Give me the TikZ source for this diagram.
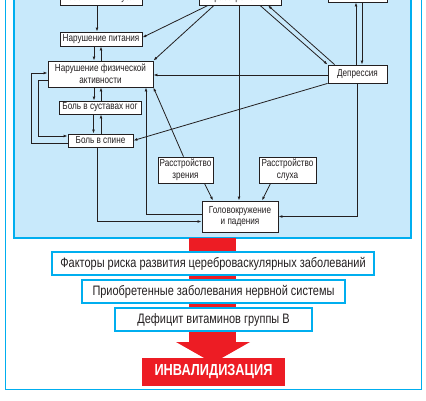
\documentclass[tikz,border=0pt]{standalone}
\usepackage{fontspec}
\setmainfont{Liberation Sans}[FakeStretch=0.8]
\usetikzlibrary{arrows.meta}

\definecolor{panelblue}{HTML}{C8E9FB}
\definecolor{framecyan}{HTML}{00AEEF}
\definecolor{alarmred}{HTML}{ED1C24}
\definecolor{inkc}{HTML}{231F20}

\begin{document}
\begin{tikzpicture}[x=1pt, y=-1pt,
        box/.style={draw=inkc, fill=white, line width=0.8pt, inner sep=0pt, align=center,
            text=inkc, font=\fontsize{10.2}{11.5}\selectfont},
        bluebox/.style={draw=framecyan, fill=white, line width=1.5pt, inner sep=0pt,
            text=inkc, font=\fontsize{13.7}{15}\selectfont},
        arr/.style={-{Latex[length=4pt,width=2.8pt]}, line width=0.8pt, draw=inkc}]

        \useasboundingbox (0,0) rectangle (426,400);

        % frames
        \draw[framecyan, line width=1pt] (5.5,-5) -- (5.5,389) -- (421,389) -- (421,-5);
        \filldraw[fill=panelblue, draw=framecyan, line width=2pt] (14,-5) rectangle (411,238);

        % red arrow
        \fill[alarmred] (189,238) rectangle (236,342);
        \fill[alarmred] (176,342) -- (250,342) -- (213,363) -- cycle;

        % boxes in the panel
        \node[box, minimum width=82, minimum height=26] (smell) at (101,-8) {Нарушение\\обоняния и вкуса};
        \node[box, minimum width=82, minimum height=26] (cogn) at (240,-8) {Когнитивные\\расстройства};
        \node[box, minimum width=59, minimum height=26] (topr) at (357.5,-11) {};
        \node[box, minimum width=82, minimum height=14] (pit) at (101,39) {Нарушение питания};
        \node[box, minimum width=105, minimum height=26] (fiz) at (100.5,74) {Нарушение физической\\активности};
        \node[box, minimum width=82, minimum height=13] (sust) at (100,107.5) {Боль в суставах ног};
        \node[box, minimum width=65, minimum height=13] (spina) at (100.5,140.5) {Боль в спине};
        \node[box, minimum width=59, minimum height=18] (depr) at (357.5,74) {Депрессия};
        \node[box, minimum width=55, minimum height=26] (zren) at (185.5,170) {Расстройство\\зрения};
        \node[box, minimum width=57, minimum height=26] (sluh) at (287.5,170) {Расстройство\\слуха};
        \node[box, minimum width=76, minimum height=31] (golov) at (240,216.5) {Головокружение\\и падения};

        % left column
        \draw[arr] ([xshift=-4pt]smell.south) -- ([xshift=-4pt]smell.south |- pit.north);
        \draw[arr] ([xshift=-7pt]pit.south) -- ([xshift=-7pt]pit.south |- fiz.north);
        \draw[arr] ([xshift=0.5pt]fiz.north) -- ([xshift=0.5pt]fiz.north |- pit.south);
        \draw[arr] ([xshift=-6.5pt]fiz.south) -- ([xshift=-6.5pt]fiz.south |- sust.north);
        \draw[arr] ([xshift=1pt]sust.north) -- ([xshift=1pt]sust.north |- fiz.south);
        \draw[arr] ([xshift=-6.5pt]sust.south) -- ([xshift=-6.5pt]sust.south |- spina.north);
        \draw[arr] ([xshift=0.5pt]spina.north) -- ([xshift=0.5pt]spina.north |- sust.south);

        % loops on the left
        \draw[arr] ([yshift=-2.5pt]spina.west) -- ++(-36,0) |- ([yshift=1pt]fiz.west);
        \draw[arr] ([yshift=-6pt]fiz.west) -- ++(-9,0) |- ([yshift=4.5pt]spina.west);

        % from the top
        \draw[arr] ([xshift=-32pt]cogn.south) -- ([yshift=1.5pt]pit.east);
        \draw[arr] ([xshift=-26pt]cogn.south) -- (fiz.north east);
        \draw[arr] ([xshift=-1pt]cogn.south) -- ([xshift=-1pt]cogn.south |- golov.north);
        \draw[arr] ([xshift=20pt]cogn.south) -- (depr.north west);
        \draw[arr] ([xshift=7pt]depr.north west) -- ([xshift=28pt]cogn.south);
        \draw[arr] ([xshift=-1.5pt]depr.north) -- ([xshift=-1.5pt]depr.north |- topr.south);
        \draw[arr] ([xshift=4.5pt]topr.south) -- ([xshift=4.5pt]topr.south |- depr.north);

        % depression
        \draw[arr] ([yshift=-1pt]depr.west) -- ([yshift=-1pt]depr.west -| fiz.east);
        \draw[arr] (depr.south west) -- (spina.east);
        \draw[arr] (depr.south) |- (golov.east);

        % dizziness and falls
        \draw[arr] ([xshift=-2pt]zren.north) -- (fiz.south east);
        \draw[arr] ([xshift=19pt]zren.south) -- ([xshift=-27pt]golov.north);
        \draw[arr] ([xshift=-17pt]sluh.south) -- ([xshift=22pt]golov.north);
        \draw[arr] ([yshift=2.5pt]golov.west) -| ([xshift=45.5pt]fiz.south);
        \draw[arr] ([xshift=-3.5pt]spina.south) |- ([yshift=-5pt]golov.west);

        % blue boxes
        \node[bluebox, minimum width=322, minimum height=23] (risk) at (213,263.5) {Факторы риска развития цереброваскулярных заболеваний};
        \node[bluebox, minimum width=263, minimum height=23] (acq) at (213.5,291.5) {Приобретенные заболевания нервной системы};
        \node[bluebox, minimum width=197, minimum height=23] (vit) at (213.5,319.5) {Дефицит витаминов группы В};

        \node[fill=alarmred, text=white, inner sep=0pt, minimum width=143, minimum height=28,
            font=\bfseries\fontsize{16}{18}\selectfont] (inv) at (213.5,372) {ИНВАЛИДИЗАЦИЯ};

    \end{tikzpicture}
\end{document}
